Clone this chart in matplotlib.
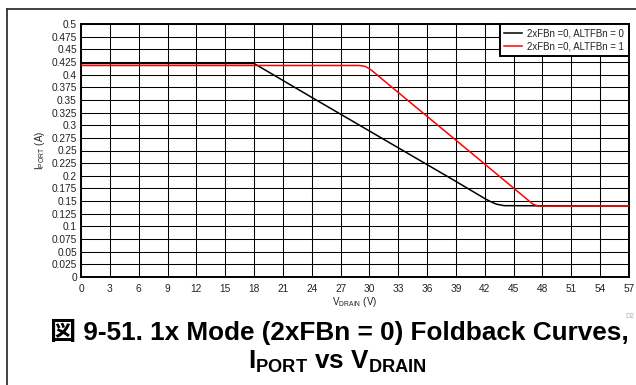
import numpy as np
import matplotlib.pyplot as plt
from matplotlib.lines import Line2D

plt.rcParams['font.family'] = ['Liberation Sans', 'DejaVu Sans']
plt.rcParams['mathtext.fontset'] = 'custom'
plt.rcParams['mathtext.rm'] = 'Liberation Sans'
plt.rcParams['mathtext.bf'] = 'Liberation Sans:bold'

# foldback curves, port current (A) vs drain voltage (V)
vdrain_alt0 = [0, 18, 24, 38.9, 42.0, 42.6, 43.2, 44.0, 57]
iport_alt0 = [0.422, 0.422, 0.355, 0.190, 0.155, 0.149, 0.144, 0.141, 0.140]

vdrain_alt1 = [0, 29.0, 29.6, 30.2, 31.45, 41.5, 47.0, 47.6, 57]
iport_alt1 = [0.418, 0.418, 0.416, 0.409, 0.389, 0.231, 0.144, 0.140, 0.140]

series_labels = ['2xFBn =0, ALTFBn = 0', '2xFBn =0, ALTFBn = 1']

xticks = np.arange(0, 58, 3)
yticks = np.arange(0, 0.5001, 0.025)
ytick_labels = ['0', '0.025', '0.05', '0.075', '0.1', '0.125', '0.15', '0.175',
                '0.2', '0.225', '0.25', '0.275', '0.3', '0.325', '0.35', '0.375',
                '0.4', '0.425', '0.45', '0.475', '0.5']

fig = plt.figure(figsize=(6.36, 3.85), dpi=100)
ax = fig.add_axes([81/636, 1 - 277/385, 548/636, 253/385])

ax.plot(vdrain_alt0, iport_alt0, color='black', lw=1.1, label=series_labels[0], zorder=3)
ax.plot(vdrain_alt1, iport_alt1, color='#ff0000', lw=1.1, label=series_labels[1], zorder=3)

ax.set_xlim(0, 57)
ax.set_ylim(0, 0.5)
ax.set_xticks(xticks)
ax.set_xticklabels([str(v) for v in xticks])
ax.set_yticks(yticks)
ax.set_yticklabels(ytick_labels)
ax.tick_params(length=0, labelsize=7.3, labelcolor='#222222')
ax.tick_params(axis='x', pad=5)
ax.tick_params(axis='y', pad=3)
ax.grid(True, color='black', lw=0.75)
ax.set_axisbelow(True)
for s in ax.spines.values():
    s.set_linewidth(1.4)
    s.set_color('black')

ax.set_xlabel(r'$\mathrm{V_{DRAIN}}$ (V)', fontsize=7, color='#222222', labelpad=1)
ax.set_ylabel(r'$\mathrm{I_{PORT}}$ (A)', fontsize=7, color='#222222', labelpad=3)

leg = ax.legend(loc='upper right', borderaxespad=0, fontsize=6.9, handlelength=1.8,
                handletextpad=0.6, fancybox=False, framealpha=1, edgecolor='black',
                borderpad=0.5, labelspacing=0.25)
leg.get_frame().set_linewidth(1.4)
for t in leg.get_texts():
    t.set_color('#222222')

fig.text(625/636, 1 - 317/385, 'D2', fontsize=5, color='#b0b0b0', ha='left', va='center')

# outer border
fig.add_artist(Line2D([7/636, 1.0], [1 - 9/385, 1 - 9/385], transform=fig.transFigure,
                      color='#333333', lw=1.3))
fig.add_artist(Line2D([7/636, 7/636], [1 - 9/385, 0.0], transform=fig.transFigure,
                      color='#333333', lw=1.3))

fig.text(339/636, 1 - 332/385, '図 9-51. 1x Mode (2xFBn = 0) Foldback Curves,',
         fontsize=18.8, fontweight='bold', ha='center', va='center',
         family=['Liberation Sans', 'Noto Sans CJK JP'])
fig.text(337/636, 1 - 362/385, r'$\mathbf{I_{PORT}}$ vs $\mathbf{V_{DRAIN}}$',
         fontsize=18.8, fontweight='bold', ha='center', va='center')

fig.savefig('out.png', dpi=100)
